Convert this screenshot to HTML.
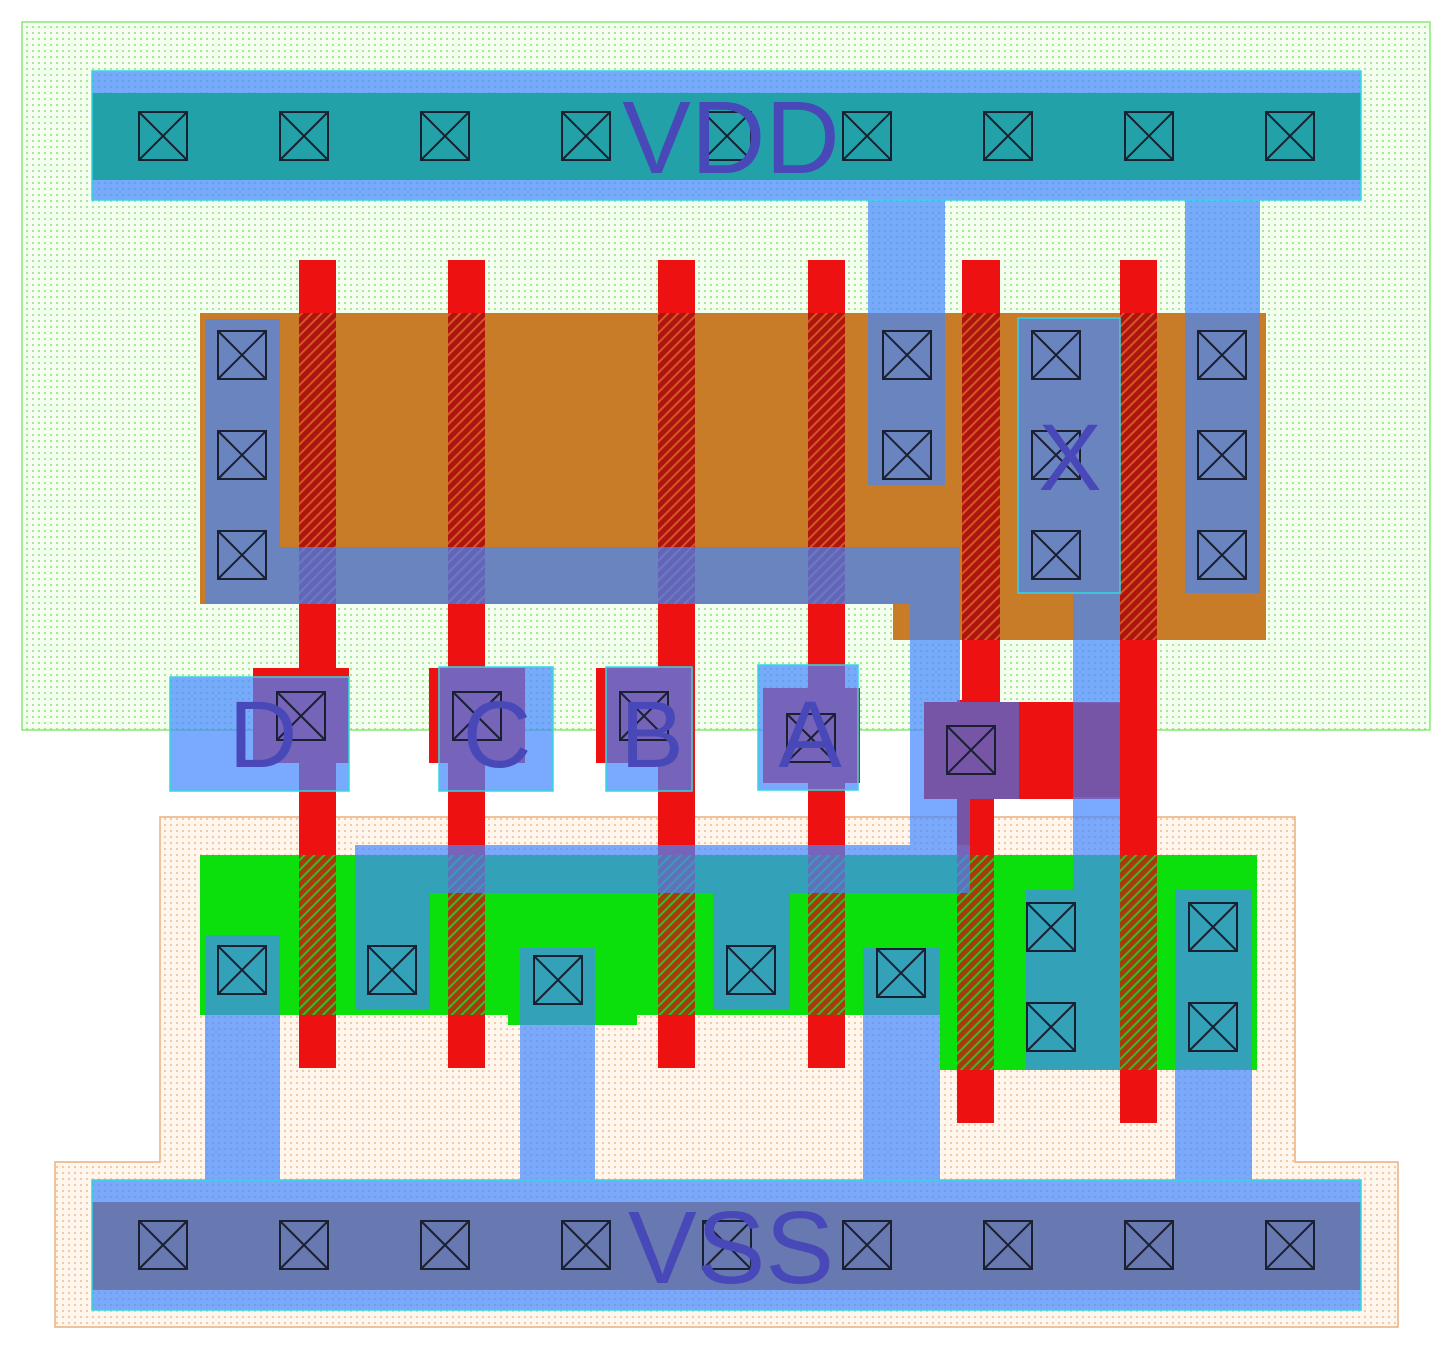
<!DOCTYPE html>
<html><head><meta charset="utf-8"><style>html,body{margin:0;padding:0;background:#fff}svg{display:block}</style></head>
<body>
<svg width="1452" height="1350" viewBox="0 0 1452 1350" xmlns="http://www.w3.org/2000/svg">
<defs>
<pattern id="gdot" width="6" height="6" patternUnits="userSpaceOnUse"><rect width="6" height="6" fill="#f4fff0"/><circle cx="3" cy="3" r="1.1" fill="#9ee68e"/></pattern>
<pattern id="odot" width="6" height="6" patternUnits="userSpaceOnUse"><rect width="6" height="6" fill="#fff6ee"/><circle cx="3" cy="3" r="1.1" fill="#f2c59e"/></pattern>
<pattern id="hp" width="7" height="7" patternUnits="userSpaceOnUse" patternTransform="rotate(45)"><rect width="7" height="7" fill="#b01410"/><rect width="2" height="7" fill="#d05a20"/></pattern>
<pattern id="hn" width="7" height="7" patternUnits="userSpaceOnUse" patternTransform="rotate(45)"><rect width="7" height="7" fill="#a83a10"/><rect width="2" height="7" fill="#30c020"/></pattern>
<g id="ct"><rect x="-24" y="-24" width="48" height="48" fill="none" stroke="#1a2030" stroke-width="2"/><path d="M-24 -24L24 24M24 -24L-24 24" stroke="#1a2030" stroke-width="2"/></g>
</defs>
<rect x="22" y="22" width="1408" height="708" fill="url(#gdot)" stroke="#88e878" stroke-width="1.5"/>
<path d="M160 817H1295V1162H1398V1327H55V1162H160Z" fill="url(#odot)" stroke="#e8b080" stroke-width="1.5"/>
<rect x="200" y="313" width="1066" height="291" fill="#c87c28"/>
<rect x="893" y="313" width="373" height="327" fill="#c87c28"/>
<rect x="200" y="855" width="1057" height="160" fill="#0ce00c"/>
<rect x="940" y="855" width="317" height="215" fill="#0ce00c"/>
<rect x="508" y="1000" width="129" height="25" fill="#0ce00c"/>
<g fill="#ee1111">
<rect x="299" y="260" width="37" height="808"/>
<rect x="448" y="260" width="37" height="808"/>
<rect x="658" y="260" width="37" height="808"/>
<rect x="808" y="260" width="37" height="808"/>
<rect x="962" y="260" width="38" height="450"/>
<rect x="957" y="700" width="37" height="423"/>
<rect x="924" y="702" width="196" height="97"/>
<rect x="1120" y="260" width="37" height="863"/>
<rect x="253" y="668" width="96" height="95"/>
<rect x="429" y="668" width="96" height="95"/>
<rect x="596" y="668" width="96" height="95"/>
<rect x="763" y="688" width="97" height="95"/>
</g>
<g fill="url(#hp)">
<rect x="299" y="313" width="37" height="291"/><rect x="448" y="313" width="37" height="291"/>
<rect x="658" y="313" width="37" height="291"/><rect x="808" y="313" width="37" height="291"/>
<rect x="962" y="313" width="38" height="327"/><rect x="1120" y="313" width="37" height="327"/>
</g>
<g fill="url(#hn)">
<rect x="299" y="855" width="37" height="160"/><rect x="448" y="855" width="37" height="160"/>
<rect x="658" y="855" width="37" height="160"/><rect x="808" y="855" width="37" height="160"/>
<rect x="957" y="855" width="37" height="215"/><rect x="1120" y="855" width="37" height="215"/>
</g>
<g fill="rgb(68,135,255)" fill-opacity="0.71">
<rect x="92" y="71" width="1269" height="129"/>
<rect x="868" y="200" width="77" height="285"/>
<rect x="1185" y="200" width="75" height="393"/>
<rect x="205" y="319" width="75" height="228"/>
<path d="M205 547H960V702H924V799H957V845H970V893H355V845H910V604H205Z"/>
<rect x="1018" y="318" width="102" height="275"/>
<rect x="1073" y="593" width="47" height="110"/>
<rect x="1073" y="797" width="47" height="93"/>
<rect x="1026" y="890" width="94" height="180"/>
<rect x="1175" y="890" width="77" height="290"/>
<rect x="355" y="893" width="75" height="117"/>
<rect x="713" y="893" width="77" height="117"/>
<rect x="205" y="935" width="75" height="245"/>
<rect x="520" y="948" width="75" height="232"/>
<rect x="863" y="948" width="77" height="232"/>
<rect x="92" y="1180" width="1269" height="130"/>
<rect x="170" y="677" width="179" height="114"/>
<rect x="439" y="667" width="114" height="124"/>
<rect x="606" y="667" width="86" height="124"/>
<rect x="758" y="665" width="100" height="125"/>
</g>
<rect x="92" y="93" width="1269" height="87" fill="#22a2a8"/>
<rect x="92" y="1202" width="1269" height="88" fill="#6878b0"/>
<rect x="924" y="702" width="95" height="97" fill="#7654a6"/>
<rect x="957" y="799" width="13" height="46" fill="#7654a6"/>
<rect x="1073" y="703" width="47" height="94" fill="#7654a6"/>
<g fill="none" stroke="#30d8e0" stroke-width="1.5">
<rect x="92" y="71" width="1269" height="129"/><rect x="92" y="1180" width="1269" height="130"/>
<rect x="1018" y="318" width="102" height="275"/>
<rect x="170" y="677" width="179" height="114"/><rect x="439" y="667" width="114" height="124"/>
<rect x="606" y="667" width="86" height="124"/><rect x="758" y="665" width="100" height="125"/>
</g>
<g>
<use href="#ct" x="163" y="136"/><use href="#ct" x="304" y="136"/><use href="#ct" x="445" y="136"/><use href="#ct" x="586" y="136"/><use href="#ct" x="727" y="136"/><use href="#ct" x="867" y="136"/><use href="#ct" x="1008" y="136"/><use href="#ct" x="1149" y="136"/><use href="#ct" x="1290" y="136"/>
<use href="#ct" x="163" y="1245"/><use href="#ct" x="304" y="1245"/><use href="#ct" x="445" y="1245"/><use href="#ct" x="586" y="1245"/><use href="#ct" x="727" y="1245"/><use href="#ct" x="867" y="1245"/><use href="#ct" x="1008" y="1245"/><use href="#ct" x="1149" y="1245"/><use href="#ct" x="1290" y="1245"/>
<use href="#ct" x="242" y="355"/><use href="#ct" x="242" y="455"/><use href="#ct" x="242" y="555"/>
<use href="#ct" x="907" y="355"/><use href="#ct" x="907" y="455"/>
<use href="#ct" x="1056" y="355"/><use href="#ct" x="1056" y="455"/><use href="#ct" x="1056" y="555"/>
<use href="#ct" x="1222" y="355"/><use href="#ct" x="1222" y="455"/><use href="#ct" x="1222" y="555"/>
<use href="#ct" x="242" y="970"/><use href="#ct" x="392" y="970"/><use href="#ct" x="558" y="980"/><use href="#ct" x="751" y="970"/><use href="#ct" x="901" y="973"/>
<use href="#ct" x="1051" y="927"/><use href="#ct" x="1051" y="1027"/><use href="#ct" x="1213" y="927"/><use href="#ct" x="1213" y="1027"/>
<use href="#ct" x="301" y="716"/><use href="#ct" x="477" y="716"/><use href="#ct" x="644" y="716"/><use href="#ct" x="811" y="738"/><use href="#ct" x="971" y="750"/>
</g>
<g font-family="Liberation Sans, sans-serif" fill="#4848b8" text-anchor="middle">
<text x="731" y="173" font-size="103">VDD</text>
<text x="731" y="1283" font-size="103">VSS</text>
<text x="1070" y="490" font-size="95">X</text>
<text x="263" y="767" font-size="95">D</text>
<text x="497" y="767" font-size="95">C</text>
<text x="652" y="767" font-size="95">B</text>
<text x="810" y="767" font-size="95">A</text>
</g>
</svg>
</body></html>
